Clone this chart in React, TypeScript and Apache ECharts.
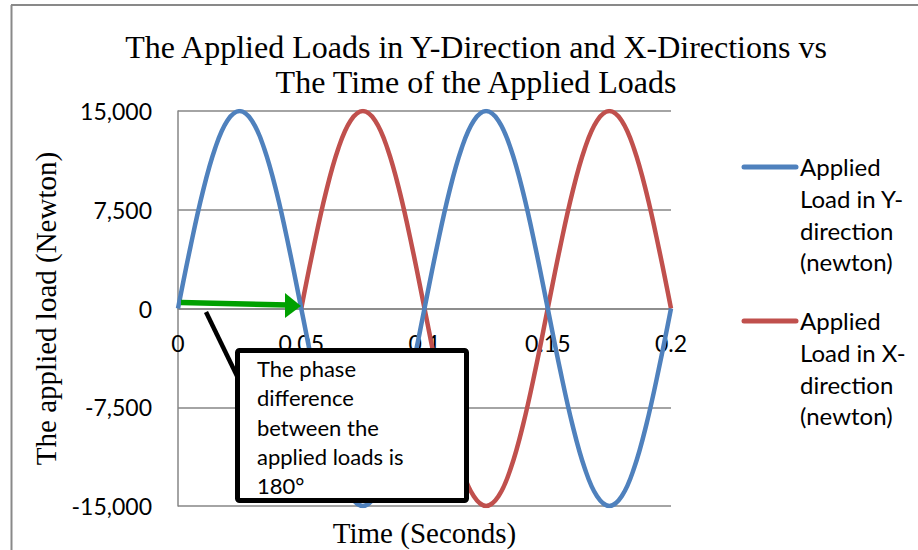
import React, { useEffect, useRef } from "react";
import * as echarts from "echarts";

const titleLines = [
  "The Applied Loads in Y-Direction and X-Directions vs",
  "The Time of the Applied Loads",
];
const yAxisName = "The applied load (Newton)";
const xAxisName = "Time (Seconds)";
const seriesNames = [
  "Applied\nLoad in Y-\ndirection\n(newton)",
  "Applied\nLoad in X-\ndirection\n(newton)",
];
const calloutText = "The phase\ndifference\nbetween the\napplied loads is\n180°";

const timeY = [
  0, 0.005, 0.01, 0.015, 0.02, 0.025, 0.03, 0.035, 0.04, 0.045, 0.05, 0.055, 0.06, 0.065,
  0.07, 0.075, 0.08, 0.085, 0.09, 0.095, 0.1, 0.105, 0.11, 0.115, 0.12, 0.125, 0.13, 0.135,
  0.14, 0.145, 0.15, 0.155, 0.16, 0.165, 0.17, 0.175, 0.18, 0.185, 0.19, 0.195, 0.2,
];
const loadY = [
  0, 4635, 8817, 12135, 14266, 15000, 14266, 12135, 8817, 4635, 0, -4635, -8817, -12135,
  -14266, -15000, -14266, -12135, -8817, -4635, 0, 4635, 8817, 12135, 14266, 15000, 14266,
  12135, 8817, 4635, 0, -4635, -8817, -12135, -14266, -15000, -14266, -12135, -8817, -4635, 0,
];
const timeX = [
  0.05, 0.055, 0.06, 0.065, 0.07, 0.075, 0.08, 0.085, 0.09, 0.095, 0.1, 0.105, 0.11, 0.115,
  0.12, 0.125, 0.13, 0.135, 0.14, 0.145, 0.15, 0.155, 0.16, 0.165, 0.17, 0.175, 0.18, 0.185,
  0.19, 0.195, 0.2,
];
const loadX = [
  0, 4635, 8817, 12135, 14266, 15000, 14266, 12135, 8817, 4635, 0, -4635, -8817, -12135,
  -14266, -15000, -14266, -12135, -8817, -4635, 0, 4635, 8817, 12135, 14266, 15000, 14266,
  12135, 8817, 4635, 0,
];

const BLUE = "#4F81BD";
const RED = "#C0504D";
const GRID = "#868686";
const SANS = "Lato";
const SERIF = "Liberation Serif";

export default function App() {
  const ref = useRef<HTMLDivElement>(null);
  useEffect(() => {
    document.body.style.margin = "0";
    if (!ref.current) return;
    const chart = echarts.init(ref.current, null, { renderer: "svg" });
    const legendText = (y: number, text: string) => ({
      type: "text",
      x: 800,
      y: y - 16,
      style: { text, font: `24px ${SANS}`, fill: "#000", lineHeight: 31.7 },
      z: 100,
    });
    chart.setOption({
      animation: false,
      backgroundColor: "#fff",
      title: {
        text: titleLines.join("\n"),
        left: 471,
        top: 24,
        textAlign: "center",
        textStyle: {
          fontFamily: SERIF,
          fontSize: 32,
          fontWeight: "normal",
          color: "#000",
          lineHeight: 35,
        },
      },
      grid: {
        left: 178,
        right: 247,
        top: 111,
        bottom: 44,
        containLabel: false,
        outerBoundsMode: "none",
      },
      xAxis: {
        type: "value",
        min: 0,
        max: 0.2,
        interval: 0.05,
        position: "bottom",
        offset: -197.5,
        name: xAxisName,
        nameLocation: "middle",
        nameGap: 210,
        nameTextStyle: { fontFamily: SERIF, fontSize: 29, color: "#000" },
        axisLine: { onZero: false, lineStyle: { color: GRID, width: 1.5 } },
        axisTick: { show: false },
        axisLabel: { margin: 23, fontFamily: SANS, fontSize: 23, color: "#000" },
        splitLine: { show: false },
      },
      yAxis: {
        type: "value",
        min: -15000,
        max: 15000,
        interval: 7500,
        name: yAxisName,
        nameLocation: "middle",
        nameGap: 116,
        nameTextStyle: { fontFamily: SERIF, fontSize: 29, color: "#000" },
        axisLine: { show: true, lineStyle: { color: GRID, width: 1.5 } },
        axisTick: { show: false },
        axisLabel: {
          margin: 26,
          fontFamily: SANS,
          fontSize: 23,
          color: "#000",
          formatter: (v: number) => v.toLocaleString("en-US"),
        },
        splitLine: { show: true, lineStyle: { color: GRID, width: 1.5 } },
      },
      series: [
        {
          name: seriesNames[0],
          type: "line",
          data: timeY.map((t, i) => [t, loadY[i]]),
          smooth: 0.4,
          showSymbol: false,
          lineStyle: { color: BLUE, width: 4.5 },
          itemStyle: { color: BLUE },
          z: 3,
        },
        {
          name: seriesNames[1],
          type: "line",
          data: timeX.map((t, i) => [t, loadX[i]]),
          smooth: 0.4,
          showSymbol: false,
          lineStyle: { color: RED, width: 4.5 },
          itemStyle: { color: RED },
          z: 2,
        },
      ],
      graphic: [
        { type: "line", shape: { x1: 11, y1: 5, x2: 918, y2: 5 }, style: { stroke: "#898989", lineWidth: 2 }, z: 100 },
        { type: "line", shape: { x1: 11.5, y1: 5, x2: 11.5, y2: 550 }, style: { stroke: "#898989", lineWidth: 2 }, z: 100 },
        // legend
        { type: "line", shape: { x1: 744, y1: 167, x2: 796, y2: 167 }, style: { stroke: BLUE, lineWidth: 5, lineCap: "round" }, z: 100 },
        legendText(167, seriesNames[0]),
        { type: "line", shape: { x1: 744, y1: 321, x2: 796, y2: 321 }, style: { stroke: RED, lineWidth: 5, lineCap: "round" }, z: 100 },
        legendText(321, seriesNames[1]),
        // arrow
        { type: "line", shape: { x1: 181, y1: 302.5, x2: 288, y2: 305 }, style: { stroke: "#00A000", lineWidth: 5.5 }, z: 100 },
        { type: "polygon", shape: { points: [[285, 293], [301, 306], [285, 318]] }, style: { fill: "#00A000" }, z: 100 },
        // callout pointer
        { type: "line", shape: { x1: 206, y1: 312, x2: 238, y2: 378 }, style: { stroke: "#000", lineWidth: 4.5 }, z: 100 },
        // callout box
        {
          type: "rect",
          shape: { x: 237.5, y: 350.5, width: 229, height: 150, r: 2 },
          style: { fill: "#fff", stroke: "#000", lineWidth: 5 },
          z: 101,
        },
        {
          type: "text",
          x: 257,
          y: 354,
          style: { text: calloutText, font: `22px ${SANS}`, fill: "#000", lineHeight: 29.3 },
          z: 102,
        },
      ],
    });
    return () => chart.dispose();
  }, []);
  return <div ref={ref} style={{ width: 918, height: 550 }} />;
}
